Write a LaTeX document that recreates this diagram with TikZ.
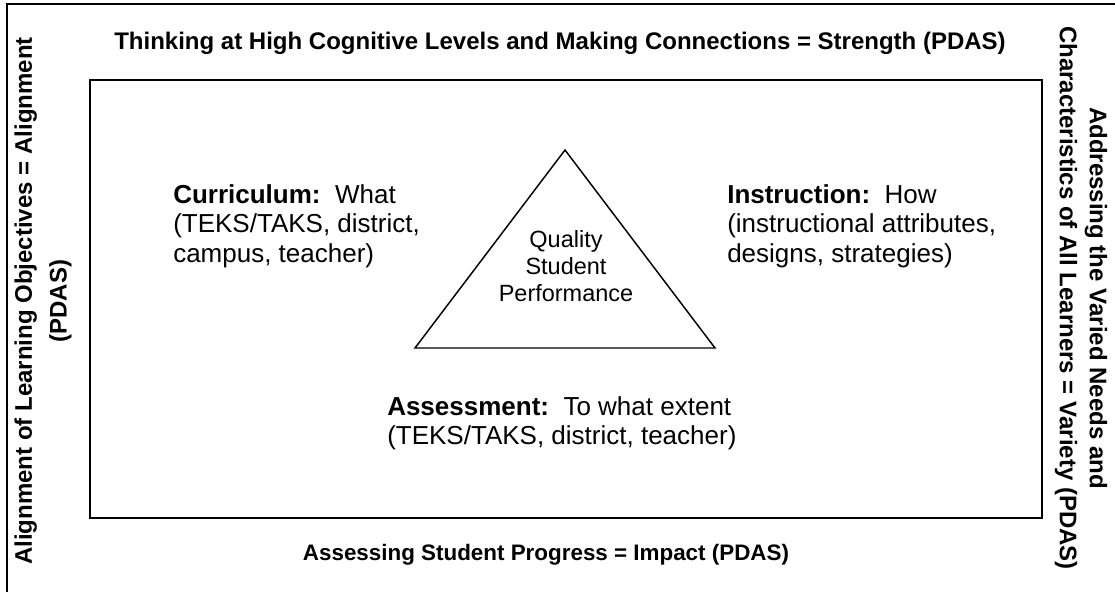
\documentclass[tikz,border=0pt]{standalone}
\usepackage{fontspec}
\setmainfont{Liberation Sans}
\usetikzlibrary{positioning}

\begin{document}
\begin{tikzpicture}[x=0.75pt, y=-0.75pt,
    frame/.style={line width=1.5pt},
    sidelabel/.style={font=\fontsize{18}{26}\selectfont\bfseries, align=center, inner sep=0pt},
    areatext/.style={font=\fontsize{19.5}{22.2}\selectfont, align=left, anchor=north west, inner sep=0pt},
    coretext/.style={font=\fontsize{17.6}{20.25}\selectfont, align=center, inner sep=0pt}]

    \useasboundingbox (0,0) rectangle (1115,592);

    % Outer frame
    \draw[frame] (7,592) -- (7,4) -- (1115,4);

    % Inner box
    \draw[frame] (90,80) rectangle (1042,518);

    % Labels round the box
    \node[sidelabel, anchor=base] (strength) at (560,50)
        {Thinking at High Cognitive Levels and Making Connections = Strength (PDAS)};
    \node[sidelabel, anchor=base, font=\fontsize{16.8}{20}\selectfont\bfseries] (impact) at (546,560)
        {Assessing Student Progress = Impact (PDAS)};
    \node[sidelabel, rotate=90] (alignment) at (43,301)
        {Alignment of Learning Objectives = Alignment\\(PDAS)};
    \node[sidelabel, rotate=-90, font=\fontsize{18}{22.5}\selectfont\bfseries] (variety) at (1081,298)
        {Addressing the Varied Needs and\\Characteristics of All Learners = Variety (PDAS)};

    % Triangle
    \coordinate (apex) at (565,150);
    \coordinate (baseL) at (415,348);
    \coordinate (baseR) at (715,348);
    \draw[line width=1.1pt] (apex) -- (baseL) -- (baseR) -- cycle;
    \node[coretext] (quality) at (566,266) {Quality\\Student\\Performance};

    % Three corners
    \node[areatext] (curriculum) at (173,184)
        {\textbf{Curriculum:}~~What\\(TEKS/TAKS, district,\\campus, teacher)};
    \node[areatext] (instruction) at (727,184)
        {\textbf{Instruction:}~~How\\(instructional attributes,\\designs, strategies)};
    \node[areatext] (assessment) at (387,396)
        {\textbf{Assessment:}~~To what extent\\(TEKS/TAKS, district, teacher)};
\end{tikzpicture}
\end{document}
